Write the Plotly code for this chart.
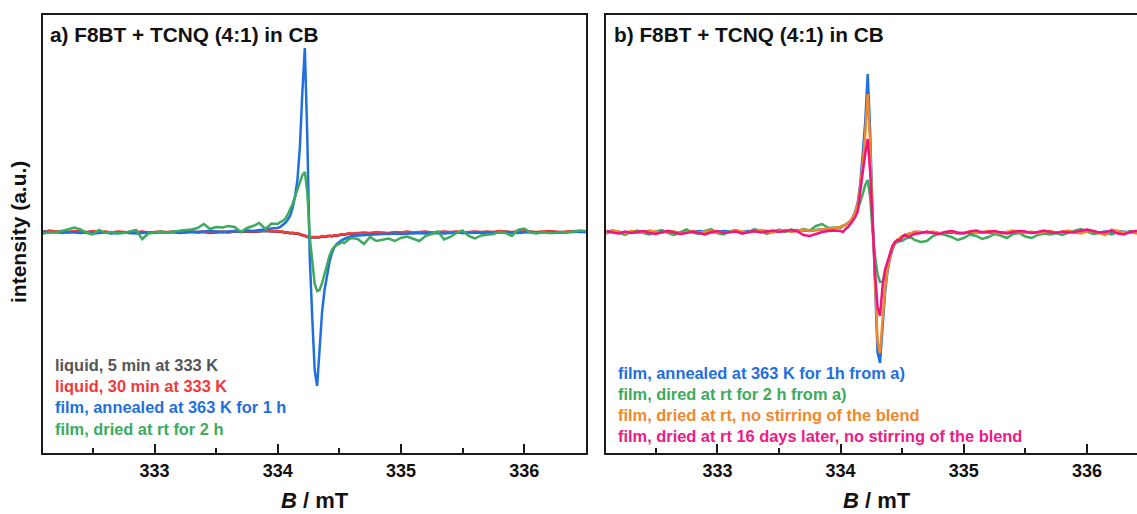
import plotly.graph_objects as go

# ---------------- data ----------------
# magnetic field grid, mT
B = [332.05, 332.10, 332.15, 332.20, 332.25, 332.30, 332.35, 332.40, 332.45, 332.50,
     332.55, 332.60, 332.65, 332.70, 332.75, 332.80, 332.85, 332.90, 332.95, 333.00,
     333.05, 333.10, 333.15, 333.20, 333.25, 333.30, 333.35, 333.40, 333.45, 333.50,
     333.55, 333.60, 333.65, 333.70, 333.75, 333.80, 333.85, 333.90, 333.95,
     334.00, 334.02, 334.04, 334.06, 334.08, 334.10, 334.12, 334.14, 334.16, 334.18,
     334.20, 334.22, 334.24, 334.26, 334.28, 334.30, 334.32, 334.34, 334.36, 334.38,
     334.40, 334.42, 334.44, 334.46, 334.48, 334.50, 334.52, 334.54, 334.56, 334.58,
     334.60,
     334.65, 334.70, 334.75, 334.80, 334.85, 334.90, 334.95, 335.00, 335.05, 335.10,
     335.15, 335.20, 335.25, 335.30, 335.35, 335.40, 335.45, 335.50, 335.55, 335.60,
     335.65, 335.70, 335.75, 335.80, 335.85, 335.90, 335.95, 336.00, 336.05, 336.10,
     336.15, 336.20, 336.25, 336.30, 336.35, 336.40, 336.45, 336.50]

# panel a) intensities (a.u.)
a_liquid_5min = [0.5, 0, 1, 0, 0.5, -0.5, 0.5, 0, -0.5, 0.5, -0.5, 0, -1, 0, -0.5, -1, -0.5, 0, -1, -0.5,
                 0, -0.5, 0, -1, -0.5, 0, -0.5, 0, -1, -0.5, 0, -0.5, 0.5, 0, 0.5, 0, 0.5, 1, 0.5,
                 0, -0.5, 0, -1, -0.5, -1.5, -1, -2, -1.5, -2.5, -3, -4, -5, -6, -5.5, -5.5, -5, -5.5, -4.5, -5,
                 -4.5, -4, -4.5, -3.5, -4, -3, -2.5, -3, -2, -1.5, -2,
                 -1.5, -1, -1.5, -0.5, -1, -1.5, -0.5, -1, 0, -1, -0.5, 0, -1, -0.5, 0, -0.5, 0, -1, -0.5, 0,
                 -0.5, 0, -0.5, 0.5, 0, -0.5, 0, 0.5, 0, -0.5, 0, 0.5, 0, -0.5, 0, 0.5, 0, 0]
a_liquid_30min = [1, 0, 1.5, 0.5, 1, 0, 1, 0.5, 0, 1, 0, 0.5, -0.5, 0.5, 0, -0.5, 0, 0.5, -0.5, 0,
                  0.5, 0, 0.5, -0.5, 0, 0.5, 0, 0.5, -0.5, 0, 0.5, 0, 1, 0.5, 1, 0.5, 1, 1.5, 1,
                  0.5, 0, 0.5, -0.5, 0, -1, -0.5, -1.5, -1, -2, -2.5, -3.5, -4.5, -5.5, -5, -5, -4.5, -5, -4, -4.5,
                  -4, -3.5, -4, -3, -3.5, -2.5, -2, -2.5, -1.5, -1, -1.5,
                  -1, -0.5, -1, 0, -0.5, -1, 0, -0.5, 0.5, -0.5, 0, 0.5, -0.5, 0, 0.5, 0, 0.5, -0.5, 0, 0.5,
                  0, 0.5, 0, 1, 0.5, 0, 0.5, 1, 0.5, 0, 0.5, 1, 0.5, 0, 0.5, 1, 0.5, 0.5]
a_film_annealed = [0, 0.5, -0.5, 0, -1, 0, -0.5, -1, -0.5, -1.5, -1, -0.5, -1.5, -1, -0.5, -1, -1.5, -1, -0.5, -1,
                   0, -0.5, 0, 0.5, 0, 0.5, 0, 0.5, 1, 0.5, 0, 0.5, 1, 0.5, 1.5, 1, 2, 2.5, 3.5,
                   4, 5, 7, 9, 12, 16, 24, 35, 52, 85, 140, 184, 95, -25, -85, -138, -154, -115, -80, -58,
                   -42, -30, -21, -15, -12, -10, -8, -7, -6, -5, -4,
                   -3.5, -3, -2.5, -2.5, -2, -2, -1.5, -2, -1.5, -1.5, -1, -1.5, -1, -1, -1.5, -1, -0.5, -1, -1, -0.5,
                   -1, -0.5, -1, -0.5, 0, -0.5, -1, -0.5, 0, -0.5, -0.5, 0, -0.5, 0, -0.5, 0, 0.5, 0]
a_film_dried = [-1, -1.5, 0, -0.5, 1, 3, 4.5, 2.5, -1, -2.5, 2, -1, 0, -1.5, -1, 0.5, 2, -7, -1.5, -0.5,
                0.5, -0.5, 0.5, 1, 2, 2.5, 4, 8, 3, 5, 4.5, 6, 5, 0, 4, 6, 9, 3, 8.5,
                8, 10, 11, 13, 17, 22, 28, 35, 42, 50, 57, 60, 40, -5, -32, -52, -59, -58, -51, -43,
                -33, -24, -18, -15, -13, -12, -10, -11, -9, -7, -6,
                -7, -12, -5, -9, -8, -6.5, -9, -6, -4.5, -7, -9, -4, -2, 0.5, -7.5, -5, -1, 1.5, -4, -6.5,
                -3.5, -2.5, -2, 0, -1, -4, 2, 3.5, -0.5, -1.5, 0, -1, -1, 0, -0.5, 0.5, 1.5, 1]

# panel b) intensities (a.u.)
b_film_annealed = [1, 0, 1.5, 0, -1, 0.5, -0.5, 0, 1, -0.5, 0.5, 1, 0, -1, 0.5, 0, 1, 0.5, -0.5, 0,
                   1, 0.5, 1.5, 0, 1, 0.5, 1.5, 1, 0, 1, 1.5, 0.5, 2, 1.5, 1, 2, 2.5, 3, 3.5,
                   5, 6, 7.5, 8.5, 11, 15, 21, 30, 48, 75, 110, 158, 100, 15, -62, -120, -131, -92, -62, -40,
                   -27, -18, -12, -8, -6, -4.5, -3.5, -2.5, -2, -1, 0,
                   0, -1, -0.5, -1.5, -1, -0.5, -1.5, -1, -0.5, -1, 0, -0.5, -1, -0.5, 0, -1, -0.5, 0, -1, -0.5,
                   0.5, 0, -0.5, 0, 0.5, -0.5, 0, 0.5, 0, -0.5, 0.5, 0, 1, 0, -0.5, 0.5, 0, 0.5]
b_film_dried = [0, -1.5, 1, -0.5, -3, 0, 1.5, -1, -2.5, 0.5, 2, -1, -3, 0, 2.5, -0.5, -2, 1, 3, -1,
                -2.5, 0.5, 2, -1.5, 0, 3, 1, -2, 0.5, 2.5, 0, 2.5, 1, 3, 1.5, 6, 8, 4, 4.5,
                4, 6, 7, 9, 11, 13, 17, 23, 30, 38, 47, 52, 35, 0, -25, -42, -50, -50, -42, -33,
                -24, -17, -12, -10, -9, -9, -7, -6, -5, -6, -8,
                -10, -9, -4, -1.5, -3, -5, -8, -6, -2.5, -4, -7, -5, -2, -3.5, -6, -2, -1, -4.5, -6, -3,
                -1.5, -2.5, -1, -3, -0.5, 1, 3, 0.5, -2, -1, -0.5, -2.5, 0, -1, 1, -0.5, -1.5, 0]
b_film_nostir = [0.5, -1, 1, 0.5, -1.5, 1, 0, -0.5, 1.5, 0, -1, 1, 0.5, -1.5, 0, 1, -0.5, 0, 1.5, 0.5,
                 -1, 0, 1.5, 0.5, -0.5, 1, 2, 0, -0.5, 1, 2, 0, 1.5, 2.5, 1, 2, 3, 3.5, 4,
                 5, 6.5, 7, 9, 11, 15, 20, 29, 45, 69, 98, 138, 88, 12, -58, -109, -121, -86, -58, -38,
                 -25, -16, -11, -8, -6, -4, -3, -2, -1.5, -1, 0.5,
                 0, -1, 0.5, -1, -0.5, 0.5, -1.5, -0.5, 0.5, -1, 0, 1, -0.5, -1.5, 0, 1.5, 0, -1, 0.5, -1.5,
                 0, 1, -0.5, 0, 1.5, -0.5, -1.5, 0.5, 1, -1, -3, 2.5, 1, -0.5, 0, -1.5, 0.5, 0]
b_film_16days = [0, 1, -0.5, -1.5, 0.5, -1, 0, 1, -1, -2, 0, 1, -0.5, -2, -1, 0.5, -1, -2.5, 0, 1,
                 -1, -0.5, 0.5, -1.5, 0, 1, -0.5, 0.5, 1.5, 0, 1, 2, 0.5, -3, -4, -2, 0, 1, 1.5,
                 1, 0, 3, 5, 8, 11, 15, 21, 38, 60, 78, 93, 60, 5, -42, -75, -84, -55, -38, -30,
                 -22, -14, -10, -8, -8.5, -5, -3, -4, -5, -3, -2,
                 -1, 0.5, -1, -2, 0, 1, -0.5, -1.5, 0.5, 1.5, -0.5, 0, 1, -0.5, -1.5, 0, 1, 0.5, -1, 0,
                 1.5, 0, -1, 0.5, -0.5, 0, 1, 2.5, 1, -0.5, 0, 1.5, -1.5, -2.5, 0, 1, 0.5, 0]

labels_a = ["liquid, 5 min at 333 K", "liquid, 30 min at 333 K",
            "film, annealed at 363 K for 1 h", "film, dried at rt for 2 h"]
labels_b = ["film, annealed at 363 K for 1h from a)", "film, dired at rt for 2 h from a)",
            "film, dried at rt, no stirring of the blend",
            "film, dried at rt 16 days later, no stirring of the blend"]
title_a = "a) F8BT + TCNQ (4:1) in CB"
title_b = "b) F8BT + TCNQ (4:1) in CB"
tick_vals = [333, 334, 335, 336]

# ---------------- styling ----------------
W, H = 1137, 514
FONT = "Liberation Sans, Arial, sans-serif"
GRAY, RED, BLUE, GREEN = "#4d4d4d", "#f03c3c", "#1f6fde", "#3daa5c"
ORANGE, PINK = "#f0882e", "#f0147f"
TEXT_COL = {GRAY: "#555555", RED: "#ee3a3a", BLUE: "#1f6fde", GREEN: "#3daa5c",
            ORANGE: "#f0882e", PINK: "#ee1a86"}


def px(x):
    return x / W


def py(y):
    return 1 - y / H


fig = go.Figure()

series_a = [(a_liquid_5min, GRAY), (a_liquid_30min, RED), (a_film_annealed, BLUE), (a_film_dried, GREEN)]
for (vals, col), name in zip(series_a, labels_a):
    fig.add_trace(go.Scatter(x=B, y=vals, mode="lines", name=name, xaxis="x", yaxis="y",
                             line=dict(color=col, width=2.5), showlegend=False))

series_b = [(b_film_annealed, BLUE), (b_film_dried, GREEN), (b_film_nostir, ORANGE), (b_film_16days, PINK)]
for (vals, col), name in zip(series_b, labels_b):
    fig.add_trace(go.Scatter(x=B, y=vals, mode="lines", name=name, xaxis="x2", yaxis="y2",
                             line=dict(color=col, width=2.5), showlegend=False))

LINE_COL = "#1a1a1a"
xcommon = dict(showline=True, linewidth=2, linecolor=LINE_COL, mirror=True,
               tickmode="array", tickvals=tick_vals, ticks="inside", ticklen=9, tickwidth=2,
               tickcolor=LINE_COL,
               minor=dict(tickvals=[332.5, 333.5, 334.5, 335.5, 336.5], ticks="inside", ticklen=5,
                          tickwidth=2, tickcolor=LINE_COL),
               tickfont=dict(family=FONT, size=18, color="#111111", weight="bold"),
               showgrid=False, zeroline=False)
ycommon = dict(showline=True, linewidth=2, linecolor=LINE_COL, showticklabels=False, ticks="",
               showgrid=False, zeroline=False, range=[-221, 217])

y_dom = [py(453), py(15)]
fig.update_layout(
    width=W, height=H,
    margin=dict(l=0, r=0, t=0, b=0),
    paper_bgcolor="white", plot_bgcolor="white",
    font=dict(family=FONT),
    xaxis=dict(domain=[px(43), px(586)], range=[332.095, 336.502], anchor="y", **xcommon),
    yaxis=dict(domain=y_dom, anchor="x", mirror=True, **ycommon),
    xaxis2=dict(domain=[px(606.4), 1.0], range=[332.099, 336.406], anchor="y2", **xcommon),
    yaxis2=dict(domain=y_dom, anchor="x2", mirror=False, **ycommon),
)

ann = []
ann.append(dict(text="<b>" + title_a + "</b>", x=px(48), y=py(35), xanchor="left", yanchor="middle",
                font=dict(size=20.8, color="#111111", family=FONT)))
ann.append(dict(text="<b>" + title_b + "</b>", x=px(612), y=py(35), xanchor="left", yanchor="middle",
                font=dict(size=20.8, color="#111111", family=FONT)))
for i, (lab, (_, col)) in enumerate(zip(labels_a, series_a)):
    ann.append(dict(text="<b>" + lab + "</b>", x=px(53), y=py(365 + 21.2 * i), xanchor="left",
                    yanchor="middle", font=dict(size=16.4, color=TEXT_COL[col], family=FONT)))
for i, (lab, (_, col)) in enumerate(zip(labels_b, series_b)):
    ann.append(dict(text="<b>" + lab + "</b>", x=px(616), y=py(373 + 21.0 * i), xanchor="left",
                    yanchor="middle", font=dict(size=16.4, color=TEXT_COL[col], family=FONT)))
for cx in (314.5, 877):
    ann.append(dict(text="<b><i>B</i> / mT</b>", x=px(cx), y=py(500), xanchor="center", yanchor="middle",
                    font=dict(size=22, color="#111111", family=FONT)))
ann.append(dict(text="<b>intensity (a.u.)</b>", x=px(19), y=py(232), xanchor="center", yanchor="middle",
                textangle=-90, font=dict(size=21, color="#111111", family=FONT)))
for a in ann:
    a.update(xref="paper", yref="paper", showarrow=False)
fig.update_layout(annotations=ann)

fig.write_html("out.html")
